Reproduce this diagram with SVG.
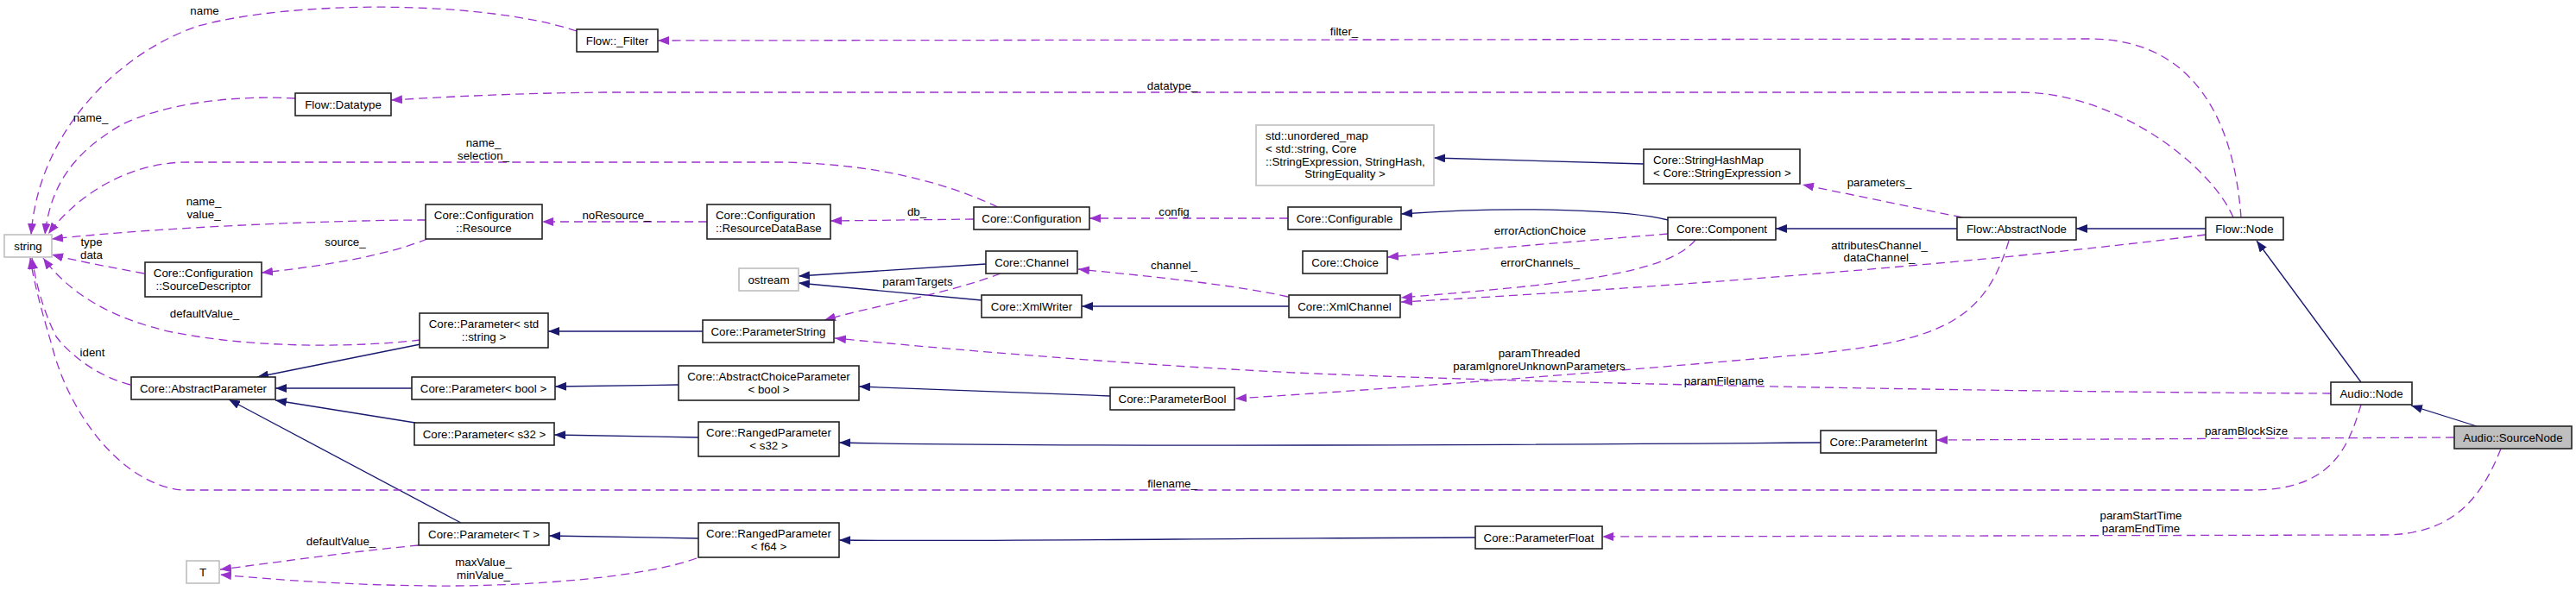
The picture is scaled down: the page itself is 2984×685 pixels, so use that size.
<svg xmlns="http://www.w3.org/2000/svg" width="2984" height="685" viewBox="0 0 2984 685">
<defs>
<style>
text{font-family:"Liberation Sans",Arial,Helvetica,sans-serif;font-size:13.3px;fill:#000}
.m{text-anchor:middle}
.nd rect{fill:#fff;stroke:#222;stroke-width:1.6}
.gr rect{fill:#fff;stroke:#bfbfbf;stroke-width:1.6}
.sel rect{fill:#bfbfbf;stroke:#222;stroke-width:1.6}
.inh{fill:none;stroke:#191970;stroke-width:1.3;marker-end:url(#ai)}
.use{fill:none;stroke:#9a32cd;stroke-width:1.3;stroke-dasharray:10,6;marker-end:url(#au)}
</style>
<marker id="ai" viewBox="0 0 13 10" refX="13" refY="5" markerWidth="13" markerHeight="10" markerUnits="userSpaceOnUse" orient="auto"><path d="M0,0 L13,5 L0,10 z" fill="#191970"/></marker>
<marker id="au" viewBox="0 0 13 10" refX="13" refY="5" markerWidth="13" markerHeight="10" markerUnits="userSpaceOnUse" orient="auto"><path d="M0,0 L13,5 L0,10 z" fill="#9a32cd"/></marker>
</defs>
<rect width="2984" height="685" fill="#fff"/>
<g id="connectors">
<path class="inh" d="M1904,190 L1661,183"/>
<path class="inh" d="M1932,255 C1890,244 1760,238 1623,248"/>
<path class="inh" d="M2267,265 L2057,265"/>
<path class="inh" d="M2555,265 L2405,265"/>
<path class="inh" d="M2735,443 L2614,279"/>
<path class="inh" d="M2869,494 L2793,470"/>
<path class="inh" d="M1142,306 L925,320"/>
<path class="inh" d="M1137,348 L925,328"/>
<path class="inh" d="M1493,355 L1253,355"/>
<path class="inh" d="M814,384 L635,384"/>
<path class="inh" d="M487,399 L298,437"/>
<path class="inh" d="M477,450 L319,450"/>
<path class="inh" d="M481,490 L319,464"/>
<path class="inh" d="M534,606 L265,463"/>
<path class="inh" d="M786,446 L643,448"/>
<path class="inh" d="M1286,459 L995,448"/>
<path class="inh" d="M809,507 L642,504"/>
<path class="inh" d="M2109,513 C1700,516 1200,518 972,513"/>
<path class="inh" d="M809,624 L636,621"/>
<path class="inh" d="M1709,623 C1400,624 1100,628 972,626"/>
<path class="use" d="M668,36 C560,0 340,0 230,30 C140,60 45,150 36,272"/>
<text class="m" x="237" y="16.5">name</text>
<path class="use" d="M342,114 C270,110 190,120 140,145 C80,180 58,220 52,272"/>
<text class="m" x="105" y="140.5">name_</text>
<path class="use" d="M1156,240 C1080,205 1000,190 906,188 L217,188 C150,188 90,225 56,271"/>
<text class="m" x="560" y="169.5">name_</text>
<text class="m" x="560" y="184.5">selection_</text>
<path class="use" d="M493,255 C400,255 200,262 60,277"/>
<text class="m" x="236" y="237.5">name_</text>
<text class="m" x="236" y="252.5">value_</text>
<path class="use" d="M167,317 C130,310 90,303 60,295"/>
<text class="m" x="106" y="284.5">type</text>
<text class="m" x="106" y="299.5">data</text>
<path class="use" d="M495,277 C450,295 380,308 303,316"/>
<text class="m" x="400" y="284.5">source_</text>
<path class="use" d="M487,394 C420,402 300,405 200,385 C130,370 80,340 50,299"/>
<text class="m" x="237" y="367.5">defaultValue_</text>
<path class="use" d="M151,446 C110,435 80,410 65,390 C50,360 42,330 37,299"/>
<text class="m" x="107" y="412.5">ident</text>
<path class="use" d="M2735,469 C2720,520 2700,568 2609,568 L210,568 C140,560 80,480 60,400 C45,350 38,320 35,299"/>
<text class="m" x="1358" y="564.5">filename_</text>
<path class="use" d="M2596,252 C2590,170 2560,45 2420,45 L762,47"/>
<text class="m" x="1557" y="40.5">filter_</text>
<path class="use" d="M2587,252 C2560,190 2450,107 2340,107 L700,107 C600,108 520,112 453,116"/>
<text class="m" x="1358" y="103.5">datatype_</text>
<path class="use" d="M819,257 L628,257"/>
<text class="m" x="714" y="253.5">noResource_</text>
<path class="use" d="M1128,254 L962,256"/>
<text class="m" x="1062" y="249.5">db_</text>
<path class="use" d="M1492,253 L1262,253"/>
<text class="m" x="1360" y="249.5">config</text>
<path class="use" d="M1932,271 L1607,298"/>
<text class="m" x="1784" y="271.5">errorActionChoice</text>
<path class="use" d="M1964,278 C1930,320 1800,330 1623,345"/>
<text class="m" x="1784" y="308.5">errorChannels_</text>
<path class="use" d="M2555,272 C2300,305 1900,335 1623,350"/>
<text class="m" x="2177" y="288.5">attributesChannel_</text>
<text class="m" x="2177" y="303">dataChannel_</text>
<path class="use" d="M2273,252 L2088,214"/>
<text class="m" x="2177" y="215.5">parameters_</text>
<path class="use" d="M1492,344 C1430,330 1330,320 1249,312"/>
<text class="m" x="1360" y="312">channel_</text>
<path class="use" d="M1159,317 C1100,340 1010,355 955,371"/>
<text class="m" x="1063" y="331">paramTargets</text>
<path class="use" d="M2700,456 C2300,454 1800,445 1500,432 C1300,422 1100,405 967,392"/>
<text class="m" x="1997" y="445.5">paramFilename</text>
<path class="use" d="M2327,279 C2300,370 2250,395 2100,410 C1900,428 1650,448 1431,462"/>
<text class="m" x="1783" y="413.5">paramThreaded</text>
<text class="m" x="1783" y="428.5">paramIgnoreUnknownParameters</text>
<path class="use" d="M2843,507 L2243,510"/>
<text class="m" x="2602" y="503.5">paramBlockSize</text>
<path class="use" d="M2897,520 C2870,590 2830,620 2760,620 L1856,622"/>
<text class="m" x="2480" y="601.5">paramStartTime</text>
<text class="m" x="2480" y="616.5">paramEndTime</text>
<path class="use" d="M485,632 C400,640 320,652 255,660"/>
<text class="m" x="395" y="631.5">defaultValue_</text>
<path class="use" d="M807,647 C750,668 620,680 500,679 C400,678 320,672 255,666"/>
<text class="m" x="560" y="655.5">maxValue_</text>
<text class="m" x="560" y="670.5">minValue_</text>
</g>
<g id="n_filter" class="nd"><rect x="668" y="34" width="94" height="26"/><text class="m" x="715" y="51.5">Flow::_Filter</text></g>
<g id="n_datatype" class="nd"><rect x="342" y="108" width="111" height="26"/><text class="m" x="397.5" y="125.5">Flow::Datatype</text></g>
<g id="n_string" class="gr"><rect x="5" y="272" width="55" height="26"/><text class="m" x="32.5" y="289.5">string</text></g>
<g id="n_resource" class="nd"><rect x="493" y="237" width="135" height="40"/><text class="m" x="560.5" y="253.5">Core::Configuration</text><text class="m" x="560.5" y="268.5">::Resource</text></g>
<g id="n_resourcedb" class="nd"><rect x="819" y="237" width="143" height="40"/><text x="829" y="253.5">Core::Configuration</text><text x="829" y="268.5">::ResourceDataBase</text></g>
<g id="n_sourcedesc" class="nd"><rect x="168" y="304" width="135" height="40"/><text class="m" x="235.5" y="320.5">Core::Configuration</text><text class="m" x="235.5" y="335.5">::SourceDescriptor</text></g>
<g id="n_ostream" class="gr"><rect x="856" y="311" width="69" height="26"/><text class="m" x="890.5" y="328.5">ostream</text></g>
<g id="n_paramstd" class="nd"><rect x="486" y="363" width="149" height="40"/><text class="m" x="560.5" y="379.5">Core::Parameter&lt; std</text><text class="m" x="560.5" y="394.5">::string &gt;</text></g>
<g id="n_paramstring" class="nd"><rect x="814" y="371" width="152" height="26"/><text class="m" x="890" y="388.5">Core::ParameterString</text></g>
<g id="n_abstractparam" class="nd"><rect x="152" y="437" width="167" height="26"/><text class="m" x="235.5" y="454.5">Core::AbstractParameter</text></g>
<g id="n_parambool" class="nd"><rect x="477" y="437" width="166" height="26"/><text class="m" x="560" y="454.5">Core::Parameter&lt; bool &gt;</text></g>
<g id="n_abstractchoice" class="nd"><rect x="786" y="424" width="209" height="40"/><text class="m" x="890.5" y="440.5">Core::AbstractChoiceParameter</text><text class="m" x="890.5" y="455.5">&lt; bool &gt;</text></g>
<g id="n_params32" class="nd"><rect x="480" y="490" width="162" height="26"/><text class="m" x="561" y="507.5">Core::Parameter&lt; s32 &gt;</text></g>
<g id="n_rangeds32" class="nd"><rect x="809" y="489" width="163" height="40"/><text class="m" x="890.5" y="505.5">Core::RangedParameter</text><text class="m" x="890.5" y="520.5">&lt; s32 &gt;</text></g>
<g id="n_paramT" class="nd"><rect x="485" y="606" width="151" height="26"/><text class="m" x="560.5" y="623.5">Core::Parameter&lt; T &gt;</text></g>
<g id="n_rangedf64" class="nd"><rect x="809" y="606" width="163" height="40"/><text class="m" x="890.5" y="622.5">Core::RangedParameter</text><text class="m" x="890.5" y="637.5">&lt; f64 &gt;</text></g>
<g id="n_T" class="gr"><rect x="216" y="650" width="38" height="26"/><text class="m" x="235" y="667.5">T</text></g>
<g id="n_umap" class="gr"><rect x="1455" y="145" width="206" height="70"/><text x="1466" y="161.5">std::unordered_map</text><text x="1466" y="176.5">&lt; std::string, Core</text><text x="1466" y="191.5">::StringExpression, StringHash,</text><text class="m" x="1558" y="206">StringEquality &gt;</text></g>
<g id="n_stringhashmap" class="nd"><rect x="1904" y="173" width="181" height="40"/><text x="1915" y="189.5">Core::StringHashMap</text><text x="1915" y="204.5">&lt; Core::StringExpression &gt;</text></g>
<g id="n_configuration" class="nd"><rect x="1128" y="240" width="134" height="26"/><text class="m" x="1195" y="257.5">Core::Configuration</text></g>
<g id="n_configurable" class="nd"><rect x="1492" y="240" width="131" height="26"/><text class="m" x="1557.5" y="257.5">Core::Configurable</text></g>
<g id="n_component" class="nd"><rect x="1932" y="252" width="125" height="26"/><text class="m" x="1994.5" y="269.5">Core::Component</text></g>
<g id="n_choice" class="nd"><rect x="1509" y="291" width="98" height="26"/><text class="m" x="1558" y="308.5">Core::Choice</text></g>
<g id="n_channel" class="nd"><rect x="1142" y="291" width="106" height="26"/><text class="m" x="1195" y="308.5">Core::Channel</text></g>
<g id="n_xmlwriter" class="nd"><rect x="1137" y="342" width="116" height="26"/><text class="m" x="1195" y="359.5">Core::XmlWriter</text></g>
<g id="n_xmlchannel" class="nd"><rect x="1493" y="342" width="129" height="26"/><text class="m" x="1557.5" y="359.5">Core::XmlChannel</text></g>
<g id="n_parameterbool" class="nd"><rect x="1286" y="449" width="144" height="26"/><text class="m" x="1358" y="466.5">Core::ParameterBool</text></g>
<g id="n_parameterfloat" class="nd"><rect x="1709" y="610" width="147" height="26"/><text class="m" x="1782.5" y="627.5">Core::ParameterFloat</text></g>
<g id="n_abstractnode" class="nd"><rect x="2267" y="252" width="138" height="26"/><text class="m" x="2336" y="269.5">Flow::AbstractNode</text></g>
<g id="n_flownode" class="nd"><rect x="2555" y="252" width="90" height="26"/><text class="m" x="2600" y="269.5">Flow::Node</text></g>
<g id="n_audionode" class="nd"><rect x="2700" y="443" width="94" height="26"/><text class="m" x="2747" y="460.5">Audio::Node</text></g>
<g id="n_sourcenode" class="sel"><rect x="2843" y="494" width="136" height="26"/><text class="m" x="2911" y="511.5">Audio::SourceNode</text></g>
<g id="n_parameterint" class="nd"><rect x="2109" y="499" width="134" height="26"/><text class="m" x="2176" y="516.5">Core::ParameterInt</text></g>
</svg>
